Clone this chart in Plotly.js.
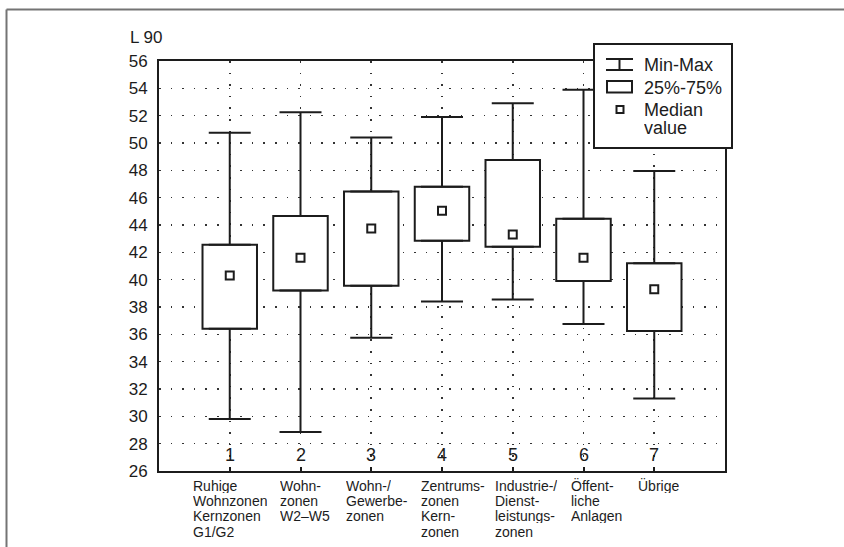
<!DOCTYPE html>
<html><head><meta charset="utf-8">
<script src="https://cdn.plot.ly/plotly-3.0.1.min.js"></script>
<style>html,body{margin:0;padding:0;background:#fff}#chart{width:844px;height:547px}</style>
</head><body><div id="chart"></div>
<script>
// ---- data ----
const positions = [1, 2, 3, 4, 5, 6, 7];
const tickLabels = ["1", "2", "3", "4", "5", "6", "7"];
const categoryLabels = [
  ["Ruhige", "Wohnzonen", "Kernzonen", "G1/G2"],
  ["Wohn-", "zonen", "W2–W5"],
  ["Wohn-/", "Gewerbe-", "zonen"],
  ["Zentrums-", "zonen", "Kern-", "zonen"],
  ["Industrie-/", "Dienst-", "leistungs-", "zonen"],
  ["Öffent-", "liche", "Anlagen"],
  ["Übrige"]
];
const minValues    = [29.8, 28.85, 35.75, 38.4, 38.55, 36.75, 31.3];
const q1Values     = [36.4, 39.2, 39.55, 42.85, 42.4, 39.9, 36.25];
const medianValues = [40.3, 41.6, 43.75, 45.05, 43.3, 41.6, 39.3];
const q3Values     = [42.55, 44.65, 46.45, 46.8, 48.75, 44.45, 41.2];
const maxValues    = [50.75, 52.25, 50.4, 51.9, 52.9, 53.9, 47.95];
const yTickValues  = [26, 28, 30, 32, 34, 36, 38, 40, 42, 44, 46, 48, 50, 52, 54, 56];
const yTitle = "L 90";
const legendLabels = ["Min-Max", "25%-75%", "Median", "value"];

// ---- layout helpers (pixel -> paper) ----
const W = 844, H = 547, ML = 159, MR = 119, MT = 61, MB = 76;
const PW = W - ML - MR, PH = H - MT - MB;
const px = x => (x - ML) / PW;
const py = y => (H - MB - y) / PH;

const FONT = "Liberation Sans, Arial, Helvetica, sans-serif";
const INK = "#1c1c1c";

const traces = [
  { // interquartile boxes
    type: "bar", x: positions,
    base: q1Values,
    y: q3Values.map((v, i) => v - q1Values[i]),
    width: 0.77,
    marker: { color: "#ffffff", line: { color: INK, width: 2 } },
    hoverinfo: "skip", showlegend: false
  },
  { // upper whiskers
    type: "scatter", mode: "markers", x: positions, y: q3Values,
    marker: { size: 1, color: "rgba(0,0,0,0)" },
    error_y: { type: "data", symmetric: false,
      array: maxValues.map((v, i) => v - q3Values[i]),
      arrayminus: q3Values.map(() => 0),
      width: 21, thickness: 2, color: INK },
    hoverinfo: "skip", showlegend: false
  },
  { // lower whiskers
    type: "scatter", mode: "markers", x: positions, y: q1Values,
    marker: { size: 1, color: "rgba(0,0,0,0)" },
    error_y: { type: "data", symmetric: false,
      array: q1Values.map(() => 0),
      arrayminus: q1Values.map((v, i) => v - minValues[i]),
      width: 21, thickness: 2, color: INK },
    hoverinfo: "skip", showlegend: false
  },
  { // medians
    type: "scatter", mode: "markers", x: positions, y: medianValues,
    marker: { symbol: "square", size: 8, color: "#ffffff", line: { color: INK, width: 2 } },
    hoverinfo: "skip", showlegend: false
  }
];

const annotations = [];
// numeric category ticks drawn inside the plot, just above the x axis line
tickLabels.forEach((t, i) => {
  annotations.push({
    xref: "x", yref: "paper", x: positions[i], y: 0,
    xanchor: "center", yanchor: "middle", yshift: 16,
    text: t, showarrow: false, borderpad: 0,
    font: { family: FONT, size: 18, color: INK }
  });
});
// category descriptions below the axis
const labelShift = [-38, -22, -26, -22, -19, -14, -17];
categoryLabels.forEach((lines, i) => {
  lines.forEach((t, j) => {
    annotations.push({
      xref: "x", yref: "paper", x: positions[i], y: 0,
      xanchor: "left", yanchor: "top", xshift: labelShift[i],
      yshift: -6 - j * 15.2, text: t, showarrow: false,
      height: 15, borderpad: 0, valign: "middle",
      font: { family: FONT, size: 14, color: INK }
    });
  });
});
annotations.push({
  xref: "paper", yref: "paper", x: px(128), y: py(38), xanchor: "left", yanchor: "middle",
  text: yTitle, showarrow: false, font: { family: FONT, size: 17, color: INK }
});
const legendY = [65, 88.3, 110, 127.7];
legendLabels.forEach((t, k) => {
  annotations.push({
    xref: "paper", yref: "paper", x: px(643), y: py(legendY[k]), xanchor: "left", yanchor: "middle",
    text: t, showarrow: false, height: 17.5, borderpad: 0, valign: "middle",
    font: { family: FONT, size: 18, color: INK }
  });
});

const ln = (x0, y0, x1, y1, color, w) => ({
  type: "line", xref: "paper", yref: "paper",
  x0: px(x0), y0: py(y0), x1: px(x1), y1: py(y1),
  line: { color: color, width: w }
});
const rect = (x0, y0, x1, y1, w, fill) => ({
  type: "rect", xref: "paper", yref: "paper",
  x0: px(x0), y0: py(y0), x1: px(x1), y1: py(y1),
  line: { color: INK, width: w }, fillcolor: fill
});

const shapes = [
  // outer page frame
  ln(6.5, 9.5, 844, 9.5, "#747474", 2),
  ln(6.5, 9.5, 6.5, 547, "#747474", 2),
  // legend box
  rect(594, 44, 732, 148, 2, "#ffffff"),
  // Min-Max symbol
  ln(606, 59, 633, 59, INK, 2),
  ln(606, 70, 633, 70, INK, 2),
  ln(619.5, 59, 619.5, 70, INK, 2),
  // 25%-75% symbol
  rect(607, 81, 632, 92.5, 2, "#ffffff"),
  // median symbol
  rect(616.5, 106, 623.5, 113, 2, "#ffffff")
];

const layout = {
  width: W, height: H,
  margin: { l: ML, r: MR, t: MT, b: MB, pad: 0 },
  paper_bgcolor: "#ffffff", plot_bgcolor: "#ffffff",
  showlegend: false,
  font: { family: FONT, color: INK },
  xaxis: {
    range: [0, 8], tickvals: positions, showticklabels: false,
    ticks: "inside", ticklen: 4, tickwidth: 2, tickcolor: INK,
    showgrid: true, gridcolor: "#333333", gridwidth: 1.6, griddash: "1.6px,10px",
    showline: true, linecolor: INK, linewidth: 2, mirror: true,
    zeroline: false, fixedrange: true
  },
  yaxis: {
    range: [26, 56], tickvals: yTickValues,
    ticks: "", ticklabelstandoff: 6,
    tickfont: { family: FONT, size: 17, color: INK },
    showgrid: true, gridcolor: "#333333", gridwidth: 1.6, griddash: "1.6px,10px",
    showline: true, linecolor: INK, linewidth: 2, mirror: true,
    zeroline: false, fixedrange: true
  },
  annotations: annotations,
  shapes: shapes,
  bargap: 0
};

Plotly.newPlot("chart", traces, layout, { staticPlot: true, displayModeBar: false });
</script>
</body></html>
